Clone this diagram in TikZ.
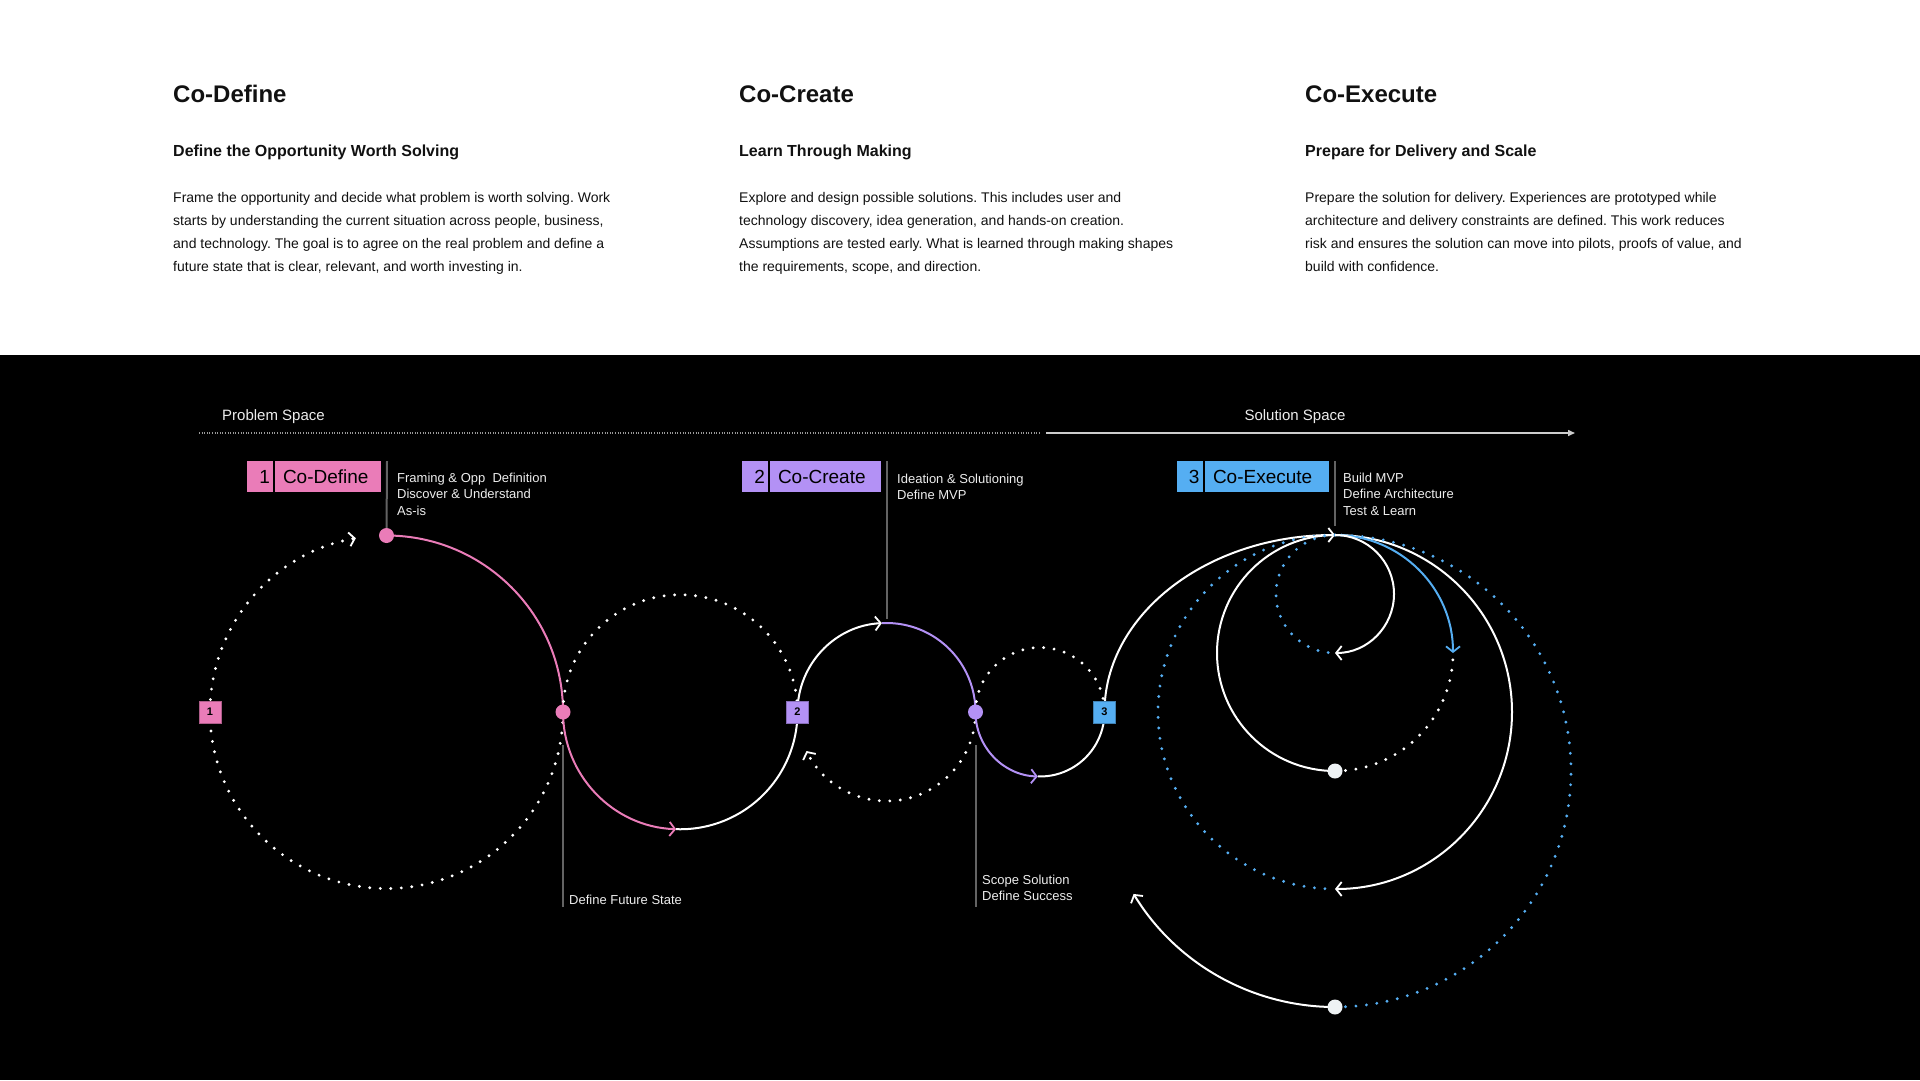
\documentclass[tikz,border=0pt]{standalone}
\usepackage{fontspec}
\setmainfont{Liberation Sans}
\usetikzlibrary{arrows.meta}
\pgfdeclarelayer{fg}
\pgfsetlayers{main,fg}
\frenchspacing

\definecolor{pinkc}{HTML}{EA7CB8}
\definecolor{purpc}{HTML}{B391F5}
\definecolor{bluec}{HTML}{55AEF2}
\definecolor{greyl}{HTML}{636363}
\definecolor{txtw}{HTML}{EDEDED}
\definecolor{ink}{HTML}{111111}
\definecolor{dotwhite}{HTML}{EEF2F4}

\begin{document}
\begin{tikzpicture}[x=1pt,y=-1pt,
  hd/.style={anchor=base west, inner sep=0pt, text=ink, font=\fontsize{24}{28}\selectfont\bfseries},
  sub/.style={anchor=base west, inner sep=0pt, text=ink, font=\fontsize{16}{19}\selectfont\bfseries},
  bd/.style={anchor=base west, inner sep=0pt, text=ink, font=\fontsize{14}{23}\selectfont},
  lab/.style={anchor=base west, inner sep=0pt, text=txtw, font=\fontsize{13}{16}\selectfont},
  spc/.style={inner sep=0pt, text=txtw, font=\fontsize{15}{18}\selectfont},
  dotw/.style={draw=white, line width=3.2pt, line cap=round, dash pattern=on 0pt off 10.5pt},
  dotb/.style={draw=bluec, line width=3.2pt, line cap=round, dash pattern=on 0pt off 10.5pt},
  solw/.style={draw=white, line width=2pt},
  pinkl/.style={draw=pinkc, line width=2pt},
  purpl/.style={draw=purpc, line width=2pt},
  bluel/.style={draw=bluec, line width=2pt},
  chev/.style={-{Straight Barb[length=5.5pt,width=14pt,line width=1.8pt]}},
  gline/.style={draw=greyl, line width=2pt},
  dotn/.style={circle, minimum size=15pt, inner sep=0pt},
  sqn/.style={rectangle, minimum size=22pt, inner sep=0pt, text=black, font=\fontsize{11}{11}\selectfont\bfseries},
  numcell/.style={rectangle, minimum height=31pt, text height=13.7pt, text depth=0pt, inner ysep=0pt, inner xsep=3pt, text width=20pt, align=right, text=black, font=\fontsize{19}{19}\selectfont},
  namecell/.style={rectangle, minimum height=31pt, text height=13.7pt, text depth=0pt, inner ysep=0pt, inner xsep=8pt, align=left, text=black, font=\fontsize{19}{19}\selectfont}
]
\useasboundingbox (0,0) rectangle (1920,1080);
\fill[white] (0,0) rectangle (1920,355);
\fill[black] (0,355) rectangle (1920,1080);

% ---------- top texts ----------
\node[hd] (h1) at (173,102.7) {Co-Define};
\node[sub] (s1t) at (173,156) {Define the Opportunity Worth Solving};
\node[bd] (a1) at (173,202.7) {Frame the opportunity and decide what problem is worth solving. Work};
\node[bd] (a2) at (173,225.7) {starts by understanding the current situation across people, business,};
\node[bd] (a3) at (173,248.7) {and technology. The goal is to agree on the real problem and define a};
\node[bd] (a4) at (173,271.7) {future state that is clear, relevant, and worth investing in.};

\node[hd] (h2) at (739,102.7) {Co-Create};
\node[sub] (s2t) at (739,156) {Learn Through Making};
\node[bd] (b1) at (739,202.7) {Explore and design possible solutions. This includes user and};
\node[bd] (b2) at (739,225.7) {technology discovery, idea generation, and hands-on creation.};
\node[bd] (b3) at (739,248.7) {Assumptions are tested early. What is learned through making shapes};
\node[bd] (b4) at (739,271.7) {the requirements, scope, and direction.};

\node[hd] (h3) at (1305,102.7) {Co-Execute};
\node[sub] (s3t) at (1305,156) {Prepare for Delivery and Scale};
\node[bd] (c1) at (1305,202.7) {Prepare the solution for delivery. Experiences are prototyped while};
\node[bd] (c2) at (1305,225.7) {architecture and delivery constraints are defined. This work reduces};
\node[bd] (c3) at (1305,248.7) {risk and ensures the solution can move into pilots, proofs of value, and};
\node[bd] (c4) at (1305,271.7) {build with confidence.};

% ---------- space axis ----------
\node[spc, anchor=base west] (pspace) at (222,420) {Problem Space};
\node[spc, anchor=base] (sspace) at (1295,420) {Solution Space};
\coordinate (ps0) at (199,433);
\coordinate (ps1) at (1040,433);
\coordinate (ss0) at (1046,433);
\coordinate (ss1) at (1575,433);
\draw[draw=white!60!black, line width=1.2pt, dash pattern=on 1pt off 1.6pt] (ps0) -- (ps1);
\draw[draw=white!80!black, line width=1.5pt, -{Triangle[length=7pt,width=6pt]}] (ss0) -- (ss1);

% ---------- foreground nodes ----------
\begin{pgfonlayer}{fg}
  \node[dotn, fill=pinkc] (pa) at (386.5,535.5) {};
  \node[dotn, fill=pinkc] (pb) at (563,712) {};
  \node[sqn, fill=pinkc, draw=pinkc!75!black, line width=0.6pt] (q1) at (210,712) {1};
  \node[sqn, fill=purpc, draw=purpc!75!black, line width=0.6pt] (q2) at (797.5,712) {2};
  \node[dotn, fill=purpc] (pc) at (975.5,712) {};
  \node[sqn, fill=bluec, draw=bluec!75!black, line width=0.6pt] (q3) at (1104.5,712) {3};
  \node[dotn, fill=dotwhite] (wa) at (1335,771) {};
  \node[dotn, fill=dotwhite] (wb) at (1335,1007) {};

  \node[numcell, fill=pinkc] (n1) at (260,476.5) {1};
  \node[namecell, fill=pinkc, text width=90pt] (m1) at (328,476.5) {Co-Define};
  \node[numcell, fill=purpc] (n2) at (755,476.5) {2};
  \node[namecell, fill=purpc, text width=95pt] (m2) at (825.5,476.5) {Co-Create};
  \node[numcell, fill=bluec] (n3) at (1189.5,476.5) {3};
  \node[namecell, fill=bluec, text width=108pt] (m3) at (1267,476.5) {Co-Execute};
\end{pgfonlayer}
\coordinate (T) at (1335,535);

% ---------- labels ----------
\node[lab] (l1a) at (397,482) {Framing \& Opp\ \ Definition};
\node[lab] (l1b) at (397,498.5) {Discover \& Understand};
\node[lab] (l1c) at (397,515) {As-is};
\node[lab] (l2a) at (897,483) {Ideation \& Solutioning};
\node[lab] (l2b) at (897,499.5) {Define MVP};
\node[lab] (l3a) at (1343,482) {Build MVP};
\node[lab] (l3b) at (1343,498.5) {Define Architecture};
\node[lab] (l3c) at (1343,515) {Test \& Learn};
\node[lab] (l4) at (569,904) {Define Future State};
\node[lab] (l5a) at (982,884) {Scope Solution};
\node[lab] (l5b) at (982,900.5) {Define Success};

% ---------- grey leader lines ----------
\coordinate (g1t) at (387,461);
\draw[gline] (g1t) -- (pa);
\coordinate (g2t) at (886.5,461);
\coordinate (g2b) at (886.5,619);
\draw[gline] (g2t) -- (g2b);
\coordinate (g3t) at (1335,461);
\coordinate (g3b) at (1335,526);
\draw[gline] (g3t) -- (g3b);
\coordinate (g4t) at (563,745);
\coordinate (g4b) at (563,907);
\draw[gline] (g4t) -- (g4b);
\coordinate (g5t) at (975.5,745);
\coordinate (g5b) at (975.5,907);
\draw[gline] (g5t) -- (g5b);

% ---------- Circle 1 : Co-Define ----------
\draw[dotw, chev] (pb.center) arc[start angle=0, end angle=260, radius=176.5];
\draw[pinkl] (pa.center) arc[start angle=-90, end angle=0, radius=176.5];

% ---------- Circle 2 ----------
\draw[dotw] (pb.center) arc[start angle=180, end angle=360, radius=117.25];
\draw[pinkl, chev] (pb.center) arc[start angle=180, end angle=92, radius=117.25];
\draw[solw] (q2.center) arc[start angle=0, end angle=92, radius=117.25];

% ---------- Circle 3 ----------
\draw[solw, chev] (q2.center) arc[start angle=180, end angle=267, radius=89];
\draw[purpl] (pc.center) arc[start angle=360, end angle=267, radius=89];
\draw[dotw, chev] (pc.center) arc[start angle=0, end angle=154, radius=89];

% ---------- Circle 4 ----------
\draw[dotw] (pc.center) arc[start angle=180, end angle=360, radius=64.5];
\draw[purpl, chev] (pc.center) arc[start angle=180, end angle=92, radius=64.5];
\draw[solw] (q3.center) arc[start angle=0, end angle=92, radius=64.5];

% ---------- Co-Execute loops ----------
\draw[solw, chev] (q3.center) arc[start angle=180, end angle=270, x radius=230.5, y radius=177];
% big circle
\draw[dotb] (T) arc[start angle=270, end angle=90, radius=177];
\draw[solw, chev] (T) arc[start angle=270, end angle=450, radius=177];
% outer circle
\draw[dotb] (wb.center) arc[start angle=90, end angle=-90, radius=236];
\draw[solw, chev] (wb.center) arc[start angle=90, end angle=148.6, radius=236];
% inner circle
\draw[solw] (T) arc[start angle=270, end angle=90, radius=118];
\draw[dotw] (wa.center) arc[start angle=90, end angle=0, radius=118];
\draw[bluel, chev] (T) arc[start angle=270, end angle=360, radius=118];
% small circle
\draw[dotb] (T) arc[start angle=270, end angle=90, radius=59];
\draw[solw, chev] (T) arc[start angle=270, end angle=450, radius=59];
\end{tikzpicture}
\end{document}
